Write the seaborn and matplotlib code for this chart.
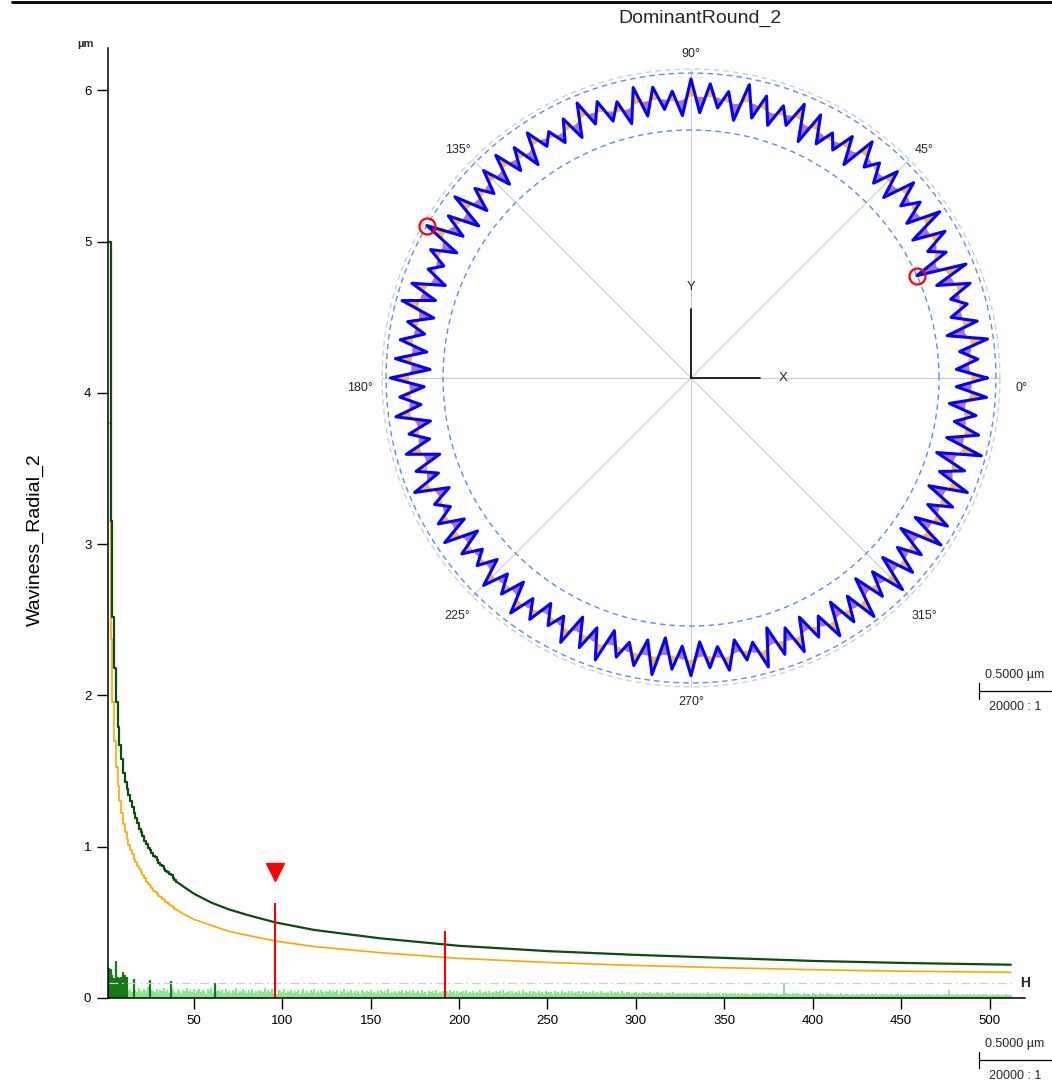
import numpy as np
import pandas as pd
import matplotlib
matplotlib.use("Agg")
import matplotlib.pyplot as plt
from matplotlib.lines import Line2D
import seaborn as sns

# ---------------- spectrum data (left chart) ----------------
harm_first = 2
# amplitude per harmonic 2..512, in 1/1000 um
spec_amp_k = [
    200, 190, 150, 130, 245, 140, 130, 140, 170, 150, 140, 45, 62, 38, 125, 52, 41, 66, 48, 35, 58, 44, 70, 118, 53,
    47, 39, 61, 33, 55, 44, 63, 40, 51, 30, 112, 57, 42, 36, 60, 49, 28, 54, 45, 67, 38, 50, 41, 59, 35,
    46, 62, 37, 52, 43, 29, 58, 48, 65, 34, 102, 44, 56, 39, 50, 31, 61, 42, 47, 36, 55, 40, 64, 33, 49,
    38, 57, 45, 30, 53, 42, 60, 35, 48, 27, 55, 44, 39, 63, 32, 50, 41, 58, 36, 46, 29, 54, 43, 37, 61,
    34, 49, 40, 56, 31, 47, 38, 52, 28, 45, 59, 36, 43, 33, 51, 40, 57, 30, 46, 35, 53, 42, 27, 49, 38,
    55, 32, 44, 39, 50, 29, 47, 41, 58, 34, 43, 37, 52, 30, 48, 36, 45, 28, 54, 40, 33, 49, 38, 56, 31,
    42, 35, 47, 29, 51, 38, 44, 32, 57, 36, 41, 27, 49, 34, 45, 39, 53, 30, 43, 37, 48, 26, 50, 33, 40,
    46, 31, 52, 35, 42, 28, 47, 38, 44, 30, 55, 34, 41, 36, 49, 27, 45, 32, 50, 37, 43, 29, 48, 33, 39,
    44, 30, 51, 35, 40, 26, 47, 36, 42, 31, 53, 33, 38, 45, 28, 49, 34, 41, 30, 46, 37, 43, 27, 50, 32,
    39, 45, 29, 48, 35, 41, 31, 44, 27, 50, 36, 40, 33, 47, 28, 43, 38, 34, 46, 30, 42, 25, 49, 35, 37,
    41, 29, 45, 34, 38, 27, 47, 32, 40, 36, 44, 26, 48, 31, 39, 35, 43, 28, 46, 33, 37, 30, 42, 25, 45,
    34, 39, 28, 43, 32, 36, 30, 41, 26, 45, 31, 38, 35, 40, 27, 44, 33, 29, 37, 42, 25, 36, 31, 39, 28,
    34, 27, 38, 30, 33, 24, 37, 29, 35, 26, 39, 31, 28, 34, 23, 36, 30, 32, 25, 37, 28, 33, 26, 35, 29,
    31, 24, 36, 27, 33, 30, 25, 35, 28, 32, 22, 34, 29, 26, 37, 27, 31, 24, 33, 28, 30, 23, 35, 26, 32,
    29, 25, 34, 27, 31, 22, 33, 28, 30, 24, 35, 26, 29, 23, 32, 27, 30, 25, 34, 21, 31, 28, 26, 33, 24,
    30, 27, 25, 32, 23, 29, 26, 98, 31, 24, 28, 22, 33, 26, 30, 25, 27, 21, 32, 28, 24, 29, 23, 31, 26,
    28, 22, 30, 25, 27, 20, 31, 24, 26, 29, 21, 28, 25, 23, 30, 22, 27, 24, 29, 20, 26, 28, 23, 25, 21,
    27, 24, 29, 22, 26, 20, 28, 25, 23, 30, 21, 27, 24, 26, 19, 28, 22, 25, 27, 21, 24, 29, 20, 26, 23,
    25, 21, 28, 23, 26, 19, 27, 22, 24, 20, 29, 23, 25, 21, 26, 22, 28, 19, 24, 26, 20, 23, 27, 21, 25,
    55, 22, 26, 20, 24, 27, 19, 23, 25, 21, 28, 22, 24, 18, 26, 23, 20, 25, 22, 27, 19, 24, 21, 23, 20,
    26, 22, 19, 24, 21, 23, 18, 25, 20, 22, 19,
]
h_limit = 0.1

# tolerance curves: stepped part per harmonic (2..40), then a coarse tail
tol_step_harm = list(range(2, 41))
tol_green_step = [5.00, 3.15, 2.52, 2.18, 1.96, 1.79, 1.67, 1.58, 1.49, 1.43,
                  1.38, 1.34, 1.30, 1.26, 1.22, 1.19, 1.16, 1.12, 1.10, 1.07,
                  1.04, 1.02, 0.99, 0.98, 0.96, 0.94, 0.93, 0.91, 0.89, 0.88,
                  0.87, 0.85, 0.84, 0.83, 0.82, 0.81, 0.79, 0.78, 0.77]
tol_orange_step = [3.80, 2.37, 1.96, 1.70, 1.53, 1.40, 1.30, 1.22, 1.15, 1.10,
                   1.05, 1.01, 0.98, 0.95, 0.92, 0.90, 0.87, 0.85, 0.83, 0.81,
                   0.79, 0.77, 0.755, 0.74, 0.725, 0.71, 0.70, 0.69, 0.675, 0.665,
                   0.655, 0.645, 0.635, 0.625, 0.615, 0.61, 0.60, 0.59, 0.585]
tol_tail_harm = [40, 45, 50, 55, 60, 70, 80, 96, 118, 155, 200, 250, 300, 350, 400, 450, 512]
tol_green_tail = [0.77, 0.73, 0.69, 0.66, 0.63, 0.585, 0.55, 0.50, 0.45, 0.395,
                  0.345, 0.31, 0.285, 0.265, 0.245, 0.232, 0.22]
tol_orange_tail = [0.585, 0.55, 0.52, 0.50, 0.48, 0.44, 0.415, 0.377, 0.34, 0.30,
                   0.262, 0.235, 0.215, 0.20, 0.187, 0.177, 0.17]

dominant_harm = [96, 192]
dominant_amp = [0.63, 0.44]
marker_level = 0.83

# ---------------- roundness profile (polar chart) ----------------
n_waves = 96
# deviation from the inner circle in um; peaks start at 0 deg, valleys half a wave later
peaks_um = [0.33, 0.27, 0.35, 0.30, 0.26, 0.32, 0.34, 0.25, 0.31, 0.35, 0.28, 0.33,
            0.30, 0.26, 0.34, 0.29, 0.24, 0.31, 0.33, 0.27, 0.30, 0.35, 0.28, 0.32,
            0.35, 0.27, 0.31, 0.33, 0.26, 0.30, 0.34, 0.28, 0.25, 0.32, 0.29, 0.33,
            0.31, 0.27, 0.34, 0.30, 0.39, 0.29, 0.25, 0.32, 0.35, 0.28, 0.31, 0.33,
            0.36, 0.30, 0.34, 0.27, 0.32, 0.29, 0.35, 0.26, 0.30, 0.33, 0.28, 0.25,
            0.31, 0.27, 0.33, 0.29, 0.26, 0.32, 0.30, 0.34, 0.28, 0.31, 0.35, 0.30,
            0.34, 0.29, 0.32, 0.27, 0.35, 0.30, 0.33, 0.28, 0.34, 0.31, 0.36, 0.29,
            0.35, 0.32, 0.29, 0.36, 0.33, 0.30, 0.35, 0.28, 0.36, 0.31, 0.27, 0.33]
valleys_um = [0.12, 0.15, 0.08, 0.13, 0.16, 0.10, 0.00, 0.14, 0.09, 0.12, 0.16, 0.11,
              0.13, 0.17, 0.10, 0.14, 0.12, 0.08, 0.15, 0.11, 0.13, 0.09, 0.16, 0.12,
              0.10, 0.15, 0.12, 0.09, 0.14, 0.16, 0.11, 0.13, 0.17, 0.10, 0.14, 0.12,
              0.15, 0.11, 0.09, 0.14, 0.12, 0.16, 0.10, 0.13, 0.11, 0.15, 0.12, 0.09,
              0.13, 0.16, 0.11, 0.14, 0.10, 0.15, 0.12, 0.17, 0.13, 0.10, 0.15, 0.12,
              0.14, 0.11, 0.16, 0.12, 0.15, 0.10, 0.13, 0.11, 0.16, 0.12, 0.09, 0.14,
              0.11, 0.15, 0.12, 0.16, 0.09, 0.13, 0.10, 0.15, 0.11, 0.14, 0.08, 0.12,
              0.10, 0.13, 0.07, 0.11, 0.14, 0.09, 0.12, 0.06, 0.10, 0.13, 0.08, 0.12]
outer_ref_um = 0.417
angle_labels = [0, 45, 90, 135, 180, 225, 270, 315]

# ---------------- figure ----------------
sns.set_theme(style="white")
plt.rcParams['font.family'] = ['Liberation Sans', 'DejaVu Sans']
W, H = 1052, 1089
fig = plt.figure(figsize=(W / 100, H / 100), dpi=100)


def box(x0, y0, x1, y1):
    return [x0 / W, 1 - y1 / H, (x1 - x0) / W, (y1 - y0) / H]


# ----- spectrum -----
ax = fig.add_axes(box(108, 48, 1025, 998))
spec = pd.DataFrame({"harmonic": np.arange(harm_first, harm_first + len(spec_amp_k)),
                     "amp": np.array(spec_amp_k) / 1000.0})
over = spec["amp"] > h_limit
ax.vlines(spec.loc[~over, "harmonic"], 0, spec.loc[~over, "amp"], color="#88e888", lw=1.4)
ax.vlines(spec.loc[over, "harmonic"], 0, spec.loc[over, "amp"], color="#137a16", lw=1.6)
ax.hlines(h_limit, spec["harmonic"].iloc[0], spec["harmonic"].iloc[-1], color="#cfcfcf",
          lw=0.9, linestyles=(0, (7, 3, 1.5, 3)))

sns.lineplot(x=tol_step_harm, y=tol_orange_step, drawstyle="steps-post", color="#ffa500",
             lw=1.2, ax=ax, estimator=None, sort=False)
sns.lineplot(x=tol_tail_harm, y=tol_orange_tail, color="#ffa500", lw=1.2, ax=ax,
             estimator=None, sort=False)
sns.lineplot(x=tol_step_harm, y=tol_green_step, drawstyle="steps-post", color="#0b4d0b",
             lw=1.6, ax=ax, estimator=None, sort=False)
sns.lineplot(x=tol_tail_harm, y=tol_green_tail, color="#0b4d0b", lw=1.6, ax=ax,
             estimator=None, sort=False)

ax.vlines(dominant_harm, 0, dominant_amp, color="#ff0000", lw=1.5)
ax.plot(dominant_harm[0], marker_level, marker="v", ms=13, color="#ff0000", mec="#ff0000")

ax.set_xlim(1.5, 520)
ax.set_ylim(0, 6.28)
ax.set_xticks(range(50, 501, 50))
ax.set_yticks(range(0, 7))
sns.despine(ax=ax)
for s in ["left", "bottom"]:
    ax.spines[s].set_color("black")
    ax.spines[s].set_linewidth(1.1)
ax.tick_params(axis="both", direction="out", length=8, width=1, colors="black",
               labelsize=9.5, pad=4, bottom=True, left=True)
ax.set_xlabel("")
ax.set_ylabel("Waviness_Radial_2", fontsize=14, color="black")
ax.yaxis.set_label_coords(-0.070, 0.482)
ax.text(1.0, h_limit, "H", transform=ax.get_yaxis_transform(), ha="center", va="center",
        fontsize=10, fontweight="bold")
fig.text(85 / W, 1 - 44 / H, "µm", fontsize=8, fontweight="bold", ha="center", va="center")

# ----- polar profile -----
px_per_um = 146.0
inner_px = 248.0
ax_r_px = 320.0
r0 = -inner_px / px_per_um
pax = fig.add_axes(box(691 - ax_r_px, 378 - ax_r_px, 691 + ax_r_px, 378 + ax_r_px),
                   projection="polar")
pax.set_ylim(r0, r0 + ax_r_px / px_per_um)
pax.axis("off")

prof = np.empty(2 * n_waves)
prof[0::2] = peaks_um
prof[1::2] = valleys_um
step = 2 * np.pi / len(prof)
theta = np.arange(len(prof)) * step
mid = 0.25 * np.roll(prof, 1) + 0.5 * prof + 0.25 * np.roll(prof, -1)
theta_c = np.append(theta, 2 * np.pi)
prof_c = np.append(prof, prof[0])
mid_c = np.append(mid, mid[0])

ring = np.linspace(0, 2 * np.pi, 721)
for deg in angle_labels:
    t = np.deg2rad(deg)
    pax.plot([t, t], [r0, outer_ref_um], color="#cccccc", lw=0.8, zorder=1)
pax.plot(ring, np.full_like(ring, outer_ref_um), color="#cfcfcf", lw=1, ls=(0, (4, 3)), zorder=1)
pax.plot(ring, np.full_like(ring, prof.max()), color="#5b8def", lw=1, ls=(0, (4, 3)), zorder=1)
pax.plot(ring, np.full_like(ring, prof.min()), color="#5b8def", lw=1, ls=(0, (4, 3)), zorder=1)

pax.fill_between(theta_c, mid_c, prof_c, where=prof_c >= mid_c, interpolate=True,
                 color="#ffa500", alpha=0.8, lw=0, zorder=2)
pax.fill_between(theta_c, mid_c, prof_c, where=prof_c < mid_c, interpolate=True,
                 color="#7a1a8c", alpha=0.6, lw=0, zorder=2)
pax.plot(theta_c, prof_c, color="#0000ff", lw=2.2, zorder=3)
pax.plot(theta[prof.argmax()], prof.max(), "o", ms=11.5, mfc="none", mec="#ff0000", mew=1.6, zorder=4)
pax.plot(theta[prof.argmin()], prof.min(), "o", ms=11.5, mfc="none", mec="#ff0000", mew=1.6, zorder=4)

# local X / Y axes at the centre
ax_len = r0 + 69 / px_per_um
pax.plot([0, 0], [r0, ax_len], color="black", lw=1.2)
pax.plot([np.pi / 2, np.pi / 2], [r0, ax_len], color="black", lw=1.2)
pax.text(0, r0 + 92 / px_per_um, "X", ha="center", va="center", fontsize=9.5)
pax.text(np.pi / 2, r0 + 91 / px_per_um, "Y", ha="center", va="center", fontsize=9.5)

for deg in angle_labels:
    if deg in (0, 180):
        rr, dy = 331, -10
    elif deg % 90 == 0:
        rr, dy = 324, 0
    else:
        rr, dy = 330, -5
    pax.annotate(f"{deg}°", (np.deg2rad(deg), r0 + rr / px_per_um), ha="center", va="center",
                 fontsize=9, xytext=(0, dy), textcoords="offset pixels", annotation_clip=False)

fig.text(700 / W, 1 - 18 / H, "DominantRound_2", ha="center", va="center", fontsize=14)

# top border line
fig.add_artist(Line2D([12 / W, 1], [1 - 1.5 / H, 1 - 1.5 / H], color="black", lw=2))

# scale notes
for y_line in (691, 1060):
    fig.add_artist(Line2D([979 / W, 1], [1 - y_line / H] * 2, color="black", lw=0.9))
    fig.add_artist(Line2D([979 / W] * 2, [1 - (y_line - 8) / H, 1 - (y_line + 8) / H],
                          color="black", lw=0.9))
    fig.text(1015 / W, 1 - (y_line - 16) / H, "0.5000 µm", ha="center", va="center", fontsize=9)
    fig.text(1015 / W, 1 - (y_line + 16) / H, "20000 : 1", ha="center", va="center", fontsize=9)

fig.savefig("out.png", dpi=100)
